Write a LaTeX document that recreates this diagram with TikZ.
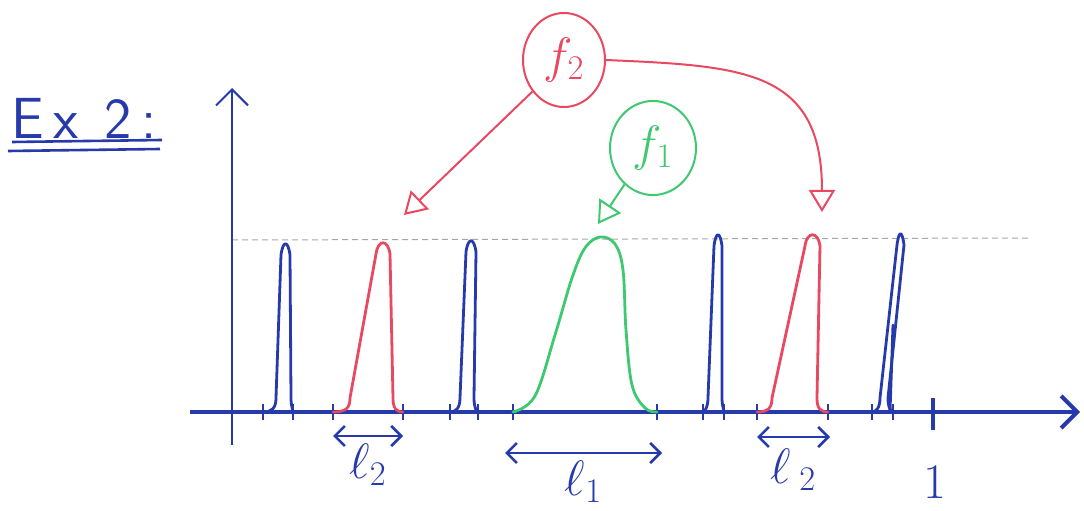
\documentclass[tikz,border=0pt]{standalone}
\usepackage{amsmath}
\usepackage{amssymb}
\usepackage{tikz}
\usepackage{xcolor}
\usetikzlibrary{arrows.meta,shapes.geometric}

\definecolor{penblue}{RGB}{38,58,172}
\definecolor{penred}{RGB}{232,72,96}
\definecolor{pengreen}{RGB}{62,200,112}

\begin{document}
\begin{tikzpicture}[x=0.5pt,y=0.5pt,
    pulse/.style={line width=1.4pt,line join=round,line cap=round},
    dimarrow/.style={penblue,line width=1.3pt,{Straight Barb[length=5pt,width=10pt]}-{Straight Barb[length=5pt,width=10pt]}},
    callout/.style={line width=1pt,-{Triangle[open,length=11pt,width=13pt,line width=1pt]}},
    bubble/.style={ellipse,draw,line width=1pt,inner sep=0pt},
    handfont/.style={font=\fontsize{24}{28}\selectfont}]
  \useasboundingbox (0,0) rectangle (1084,510);
  % title
  \node[penblue,font=\sffamily\fontsize{29}{34}\selectfont] (title) at (84,392) {E\,x\;\,2\,:};
  \draw[penblue,line width=1.3pt] (12,368) -- (162,370);
  \draw[penblue,line width=1.3pt] (8,359) -- (160,361);
  % axes and level line
  \draw[black!35,densely dashed,line width=0.5pt] (232,270) -- (1030,272);
  \draw[penblue,line width=1pt,-{Straight Barb[length=8pt,width=16pt]}] (232,65) -- (232,422);
  \draw[penblue,line width=2pt,-{Straight Barb[length=8pt,width=16pt]}] (190,98) -- (1080,98);
  \foreach \x in {263,293,333,403,450,478,513,657,703,724,757,828,872,893}
    \draw[penblue,line width=1.2pt] (\x,90) -- (\x,106);
  \draw[penblue,line width=1.6pt] (933,80) -- (933,112);
  % pulses
  \foreach \a/\b/\c/\d/\e/\f/\h/\col in {263/276/281/290/291/293/269/penblue,
      450/460/466/476/474/478/272/penblue,703/708/714/722/722/724/278/penblue,
      872/880/897/904/888/893/279/penblue,333/350/376/390/393/403/270/penred,
      757/772/805/820/817/828/278/penred} {
    \draw[pulse,\col] (\a,98) .. controls (\b-4,98) and (\b,102) .. (\b,112)
      -- (\c,\h-14) .. controls (\c+2,\h+1) and (\d-2,\h+1) .. (\d,\h-14)
      -- (\e,112) .. controls (\e,102) and (\e+3,98) .. (\f,98);
  }
  \draw[pulse,penblue] (893,185) -- (890,98);
  \draw[pulse,pengreen] plot[smooth,tension=0.6] coordinates {(513,98) (535,114) (555,175)
    (572,232) (585,262) (600,273) (615,266) (623,240) (626,180) (632,125) (645,102) (657,98)};
  % widths
  \draw[dimarrow] (333,74) -- (403,74) node[midway,below=0pt,handfont,penblue] (lbtwo) {$\ell_2$};
  \draw[dimarrow] (505,57) -- (662,57) node[midway,below=0pt,handfont,penblue] (lbone) {$\ell_1$};
  \draw[dimarrow] (757,73) -- (830,73) node[midway,below=2pt,handfont,penblue] (lbthree) {$\ell\,_2$};
  \node[penblue,handfont] (one) at (935,28) {$1$};
  % labels of the two functions
  \node[bubble,penred,minimum width=41pt,minimum height=47pt,handfont] (ftwo) at (564,450) {$f_2$};
  \node[bubble,pengreen,minimum width=43pt,minimum height=47pt,handfont] (fone) at (653,362) {$f_1$};
  \coordinate (tipa) at (404,295);
  \coordinate (tipb) at (822,298);
  \coordinate (tipc) at (598,286);
  \draw[callout,penred] (ftwo.225) -- (tipa);
  \draw[callout,penred] (ftwo.east) .. controls (745,444) and (822,440) .. (tipb);
  \draw[callout,pengreen] (fone.232) -- (tipc);
\end{tikzpicture}
\end{document}
